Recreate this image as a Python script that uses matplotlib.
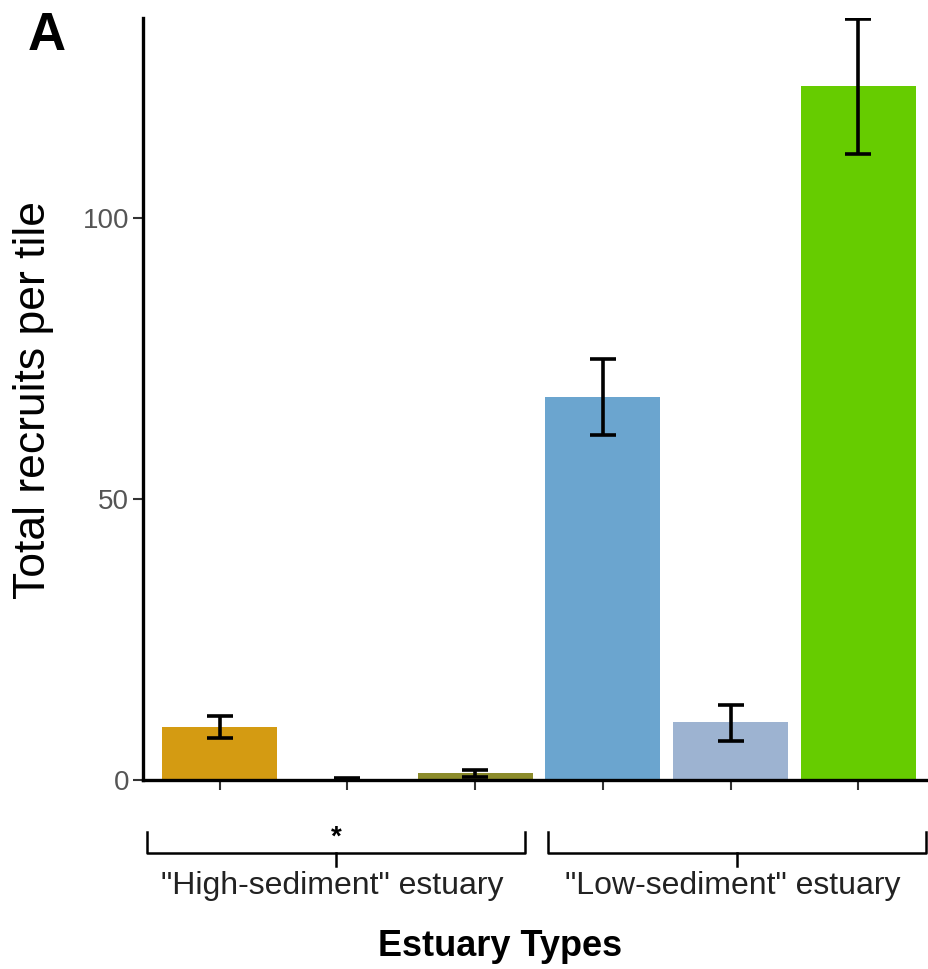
import matplotlib
matplotlib.use("Agg")
import matplotlib.pyplot as plt
import matplotlib.transforms as mtransforms

plt.rcParams["font.family"] = ["Liberation Sans", "DejaVu Sans"]

# ── Daten ───────────────────────────────────────────────────────────────────
groups = ["High-sediment", "High-sediment", "High-sediment",
          "Low-sediment", "Low-sediment", "Low-sediment"]
means = [9.4, 0.2, 1.2, 68.1, 10.3, 123.5]
err_lo = [7.5, 0.1, 0.6, 61.4, 6.9, 111.4]
err_hi = [11.4, 0.3, 1.7, 74.9, 13.3, 135.4]
colors = ["#D49B12", "#4A4A1A", "#8C8C2C", "#6BA5CF", "#9DB3D1", "#66CC00"]
yticks = [0, 50, 100]
bracket_labels = ['"High-sediment" estuary', '"Low-sediment" estuary']

xpos = list(range(1, len(means) + 1))
yerr = [[m - lo for m, lo in zip(means, err_lo)],
        [hi - m for m, hi in zip(means, err_hi)]]

fig = plt.figure(figsize=(9.29, 9.69), dpi=100)
ax = fig.add_axes([143 / 929, 189 / 969, (935 - 143) / 929, (780 - 18) / 969])

ax.bar(xpos, means, width=0.9, color=colors, zorder=2)
ax.errorbar(xpos, means, yerr=yerr, fmt="none", ecolor="black",
            elinewidth=2.6, capsize=9.5, capthick=2.6, zorder=3)

ax.set_xlim(0.4, 6.6)
ax.set_ylim(0, 135.6)
ax.set_yticks(yticks)
ax.set_xticks(xpos)
ax.set_xticklabels([""] * len(xpos))
ax.tick_params(axis="y", labelsize=20, labelcolor="#555555", length=7,
               width=1.5, color="#333333", pad=3)
ax.tick_params(axis="x", length=7, width=1.5, color="#333333")
for side in ("top", "right"):
    ax.spines[side].set_visible(False)
for side in ("left", "bottom"):
    ax.spines[side].set_linewidth(2.4)
    ax.spines[side].set_color("black")

fig.text(34 / 929, 1 - 400 / 969, "Total recruits per tile", fontsize=32,
         rotation=90, ha="center", va="center")
fig.text(28 / 929, 1 - 36 / 969, "A", fontsize=38, fontweight="bold",
         va="center", ha="left")

# ── Klammern unter der x-Achse ─────────────────────────────────────────────
trans = mtransforms.blended_transform_factory(ax.transData, fig.transFigure)
spans = [(0.43, 3.39), (3.57, 6.53)]
y_top, y_bar, y_tick = 1 - 832 / 969, 1 - 853 / 969, 1 - 866 / 969
for (x0, x1), lab in zip(spans, bracket_labels):
    xm = (x0 + x1) / 2
    ax.plot([x0, x0, x1, x1], [y_top, y_bar, y_bar, y_top], color="black",
            lw=1.8, transform=trans, clip_on=False)
    ax.plot([xm, xm], [y_bar, y_tick], color="black", lw=1.8,
            transform=trans, clip_on=False)
    ax.text(xm - 0.03, 1 - 886 / 969, lab, fontsize=23, color="#222222",
            ha="center", va="center", transform=trans)
ax.text((spans[0][0] + spans[0][1]) / 2, 1 - 838 / 969, "*", fontsize=20,
        fontweight="bold", ha="center", va="center", transform=trans)

fig.text(500 / 929, 1 - 946 / 969, "Estuary Types", fontsize=26,
         fontweight="bold", ha="center", va="center")

fig.savefig("out.png", dpi=100)
